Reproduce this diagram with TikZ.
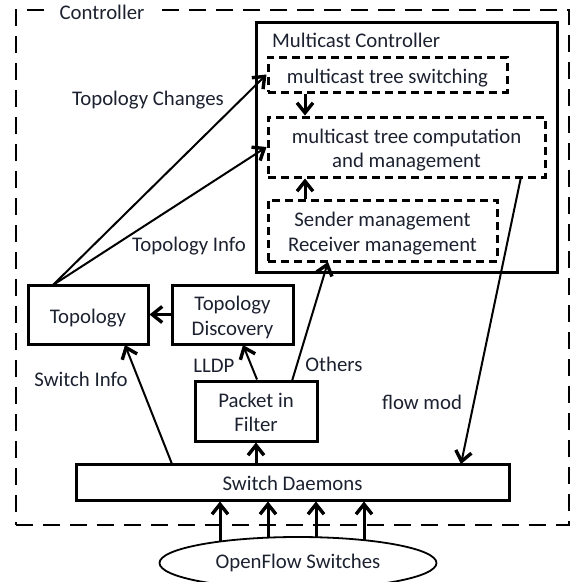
\documentclass[tikz,border=0pt]{standalone}
\usepackage{fontspec}
\setmainfont{Carlito}
\usetikzlibrary{arrows.meta,shapes.geometric,calc}
\definecolor{ink}{HTML}{1C2130}
\begin{document}
\begin{tikzpicture}[x=1pt,y=-1pt,
  font=\fontsize{20.8}{24.5}\selectfont,
  box/.style={draw, line width=3pt, rectangle, inner sep=0pt, align=center, text=ink,
    text height=17pt, text depth=0pt},
  twoline/.style={text height=41pt, text depth=0pt},
  dbox/.style={box, dash pattern=on 8pt off 5pt},
  lbl/.style={inner sep=0pt, text=ink},
  tip/.style={-{Straight Barb[length=10pt,width=16pt,line width=3.4pt]}},
  conn/.style={tip, line width=2pt},
  fat/.style={tip, line width=3pt}]
\useasboundingbox (0,0) rectangle (572,582);

% outer controller frame
\node[draw, line width=2.8pt, dash pattern=on 17pt off 10pt, minimum width=553pt, minimum height=515pt, inner sep=0pt] (ctrl) at (292.5,267.5) {};
\node[fill=white, inner xsep=10pt, inner ysep=2pt, text=ink] (ctrllbl) at (102,12) {Controller};

% multicast controller and its parts
\node[box, minimum width=301pt, minimum height=250pt] (mc) at (406.5,147) {};
\node[lbl, anchor=west] (mclbl) at (272,40) {Multicast Controller};
\node[dbox, minimum width=239pt, minimum height=35pt] (sw) at (387.5,74.5) {multicast tree switching};
\node[dbox, twoline, minimum width=277pt, minimum height=60pt] (comp) at (406.5,147) {multicast tree computation\\and management};
\node[dbox, twoline, minimum width=229pt, minimum height=61pt] (snd) at (382.5,230.5) {Sender management\\Receiver management};

% left-hand modules
\node[box, minimum width=120pt, minimum height=59pt] (topo) at (88,314.5) {Topology};
\node[box, twoline, minimum width=121pt, minimum height=59pt] (disc) at (232.5,314.5) {Topology\\Discovery};
\node[box, twoline, minimum width=122pt, minimum height=60pt] (pkt) at (256,411) {Packet in\\Filter};
\node[box, minimum width=433pt, minimum height=36pt] (dmn) at (292.5,482) {Switch Daemons};
\node[draw, line width=1.8pt, ellipse, minimum width=277pt, minimum height=52pt, inner sep=0pt, text=ink] (ofs) at (298,563) {OpenFlow Switches};

% connector end points
\coordinate (tsrc) at (53,285);
\coordinate (sisrc) at (172,464);
\coordinate (sidst) at (125,345);
\coordinate (lldst) at (243,345);
\coordinate (otsrc) at (292,381);
\coordinate (otdst) at (328,262);
\coordinate (fmsrc) at (521,177);
\coordinate (fmdst) at (461,464);
\coordinate (o1) at (220,541);
\coordinate (o2) at (268,537.5);
\coordinate (o3) at (316,537.5);
\coordinate (o4) at (364,540);
\coordinate (vx) at (305,0);

% connectors
\draw[conn] (tsrc) -- (sw.west);
\draw[conn] (tsrc) -- (comp.west);
\draw[fat] (disc.west) -- (topo.east);
\draw[conn] (sisrc) -- (sidst);
\draw[fat] (dmn.north -| pkt.south) -- (pkt.south);
\draw[conn] ($(pkt.north)+(1,0)$) -- (lldst);
\draw[conn] (otsrc) -- (otdst);
\draw[conn] (fmsrc) -- (fmdst);
\draw[fat] (sw.south -| vx) -- (comp.north -| vx);
\draw[fat] (snd.north -| vx) -- (comp.south -| vx);
\draw[fat] (o1) -- (o1 |- dmn.south);
\draw[fat] (o2) -- (o2 |- dmn.south);
\draw[fat] (o3) -- (o3 |- dmn.south);
\draw[fat] (o4) -- (o4 |- dmn.south);

% connector labels
\node[lbl] (lchg) at (148,100) {Topology Changes};
\node[lbl] (linfo) at (189,246) {Topology Info};
\node[lbl] (lsw) at (81,379) {Switch Info};
\node[lbl] (llldp) at (214,366) {LLDP};
\node[lbl] (loth) at (334,364) {Others};
\node[lbl] (lfm) at (422,402) {flow mod};
\end{tikzpicture}
\end{document}
